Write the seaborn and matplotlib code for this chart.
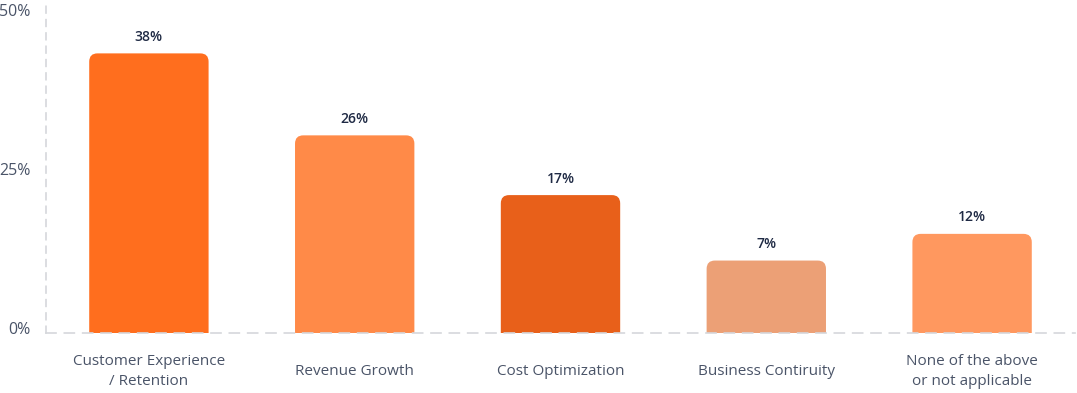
import matplotlib
matplotlib.use("Agg")
import matplotlib.pyplot as plt
import matplotlib.transforms as mtransforms
import pandas as pd
import seaborn as sns
from matplotlib.patches import FancyBboxPatch

# Data
categories = ["Customer Experience\n/ Retention", "Revenue Growth", "Cost Optimization",
              "Business Contiruity", "None of the above\nor not applicable"]
bar_heights = [44.0, 31.1, 21.7, 11.4, 15.6]
value_labels = ["38%", "26%", "17%", "7%", "12%"]
bar_colors = ["#FF6E1E", "#FF8A48", "#E8601A", "#ECA076", "#FF985F"]
y_ticks = [0, 25, 50]
y_tick_labels = ["0%", "25%", "50%"]

df = pd.DataFrame({"category": categories, "height": bar_heights})

sns.set_style("white")
plt.rcParams["font.family"] = ["Open Sans", "DejaVu Sans"]

fig = plt.figure(figsize=(10.77, 3.93), dpi=100)
ax = fig.add_axes([46 / 1077, 60 / 393, 1029 / 1077, 333 / 393])

sns.barplot(data=df, x="category", y="height", hue="category", palette=bar_colors,
            width=0.58, legend=False, ax=ax, saturation=1)

ax.set_ylim(0, 52.4)
ax.set_xlim(-0.5, 4.5)

# swap plain rectangles for ones with rounded top corners
rx = 0.04
ry = 1.3
for p, lab in zip(list(ax.patches), value_labels):
    x, w, h = p.get_x(), p.get_width(), p.get_height()
    col = p.get_facecolor()
    p.remove()
    box = FancyBboxPatch((x, -ry * 2), w, h + ry * 2,
                         boxstyle=f"round,pad=0,rounding_size={rx}",
                         mutation_aspect=ry / rx, facecolor=col, edgecolor="none", zorder=2)
    ax.add_patch(box)
    ax.text(x + w / 2, h + 2.6, lab, ha="center", va="center", fontsize=10,
            fontweight="semibold", color="#1F2A44")

for s in ["top", "right"]:
    ax.spines[s].set_visible(False)
ax.spines["left"].set_linestyle((0, (4, 4)))
ax.spines["left"].set_color("#D5D7DB")
ax.spines["left"].set_linewidth(1.2)
ax.spines["bottom"].set_linestyle((0, (6, 5)))
ax.spines["bottom"].set_color("#D5D7DB")
ax.spines["bottom"].set_linewidth(1.2)
ax.spines["bottom"].set_zorder(3)

ax.set_yticks(y_ticks)
ax.set_yticklabels(y_tick_labels)
ax.tick_params(axis="y", length=0, pad=11, labelsize=11.5, labelcolor="#4A5468")
shift_up = mtransforms.ScaledTranslation(0, 3 / 100, fig.dpi_scale_trans)
for t in ax.get_yticklabels():
    t.set_va("center")
    t.set_transform(t.get_transform() + shift_up)

ax.tick_params(axis="x", length=0, pad=28, labelsize=11, labelcolor="#4A5468")
for t in ax.get_xticklabels():
    t.set_va("center")
    t.set_linespacing(1.45)

ax.set_xlabel("")
ax.set_ylabel("")

fig.savefig("out.png", dpi=100)
